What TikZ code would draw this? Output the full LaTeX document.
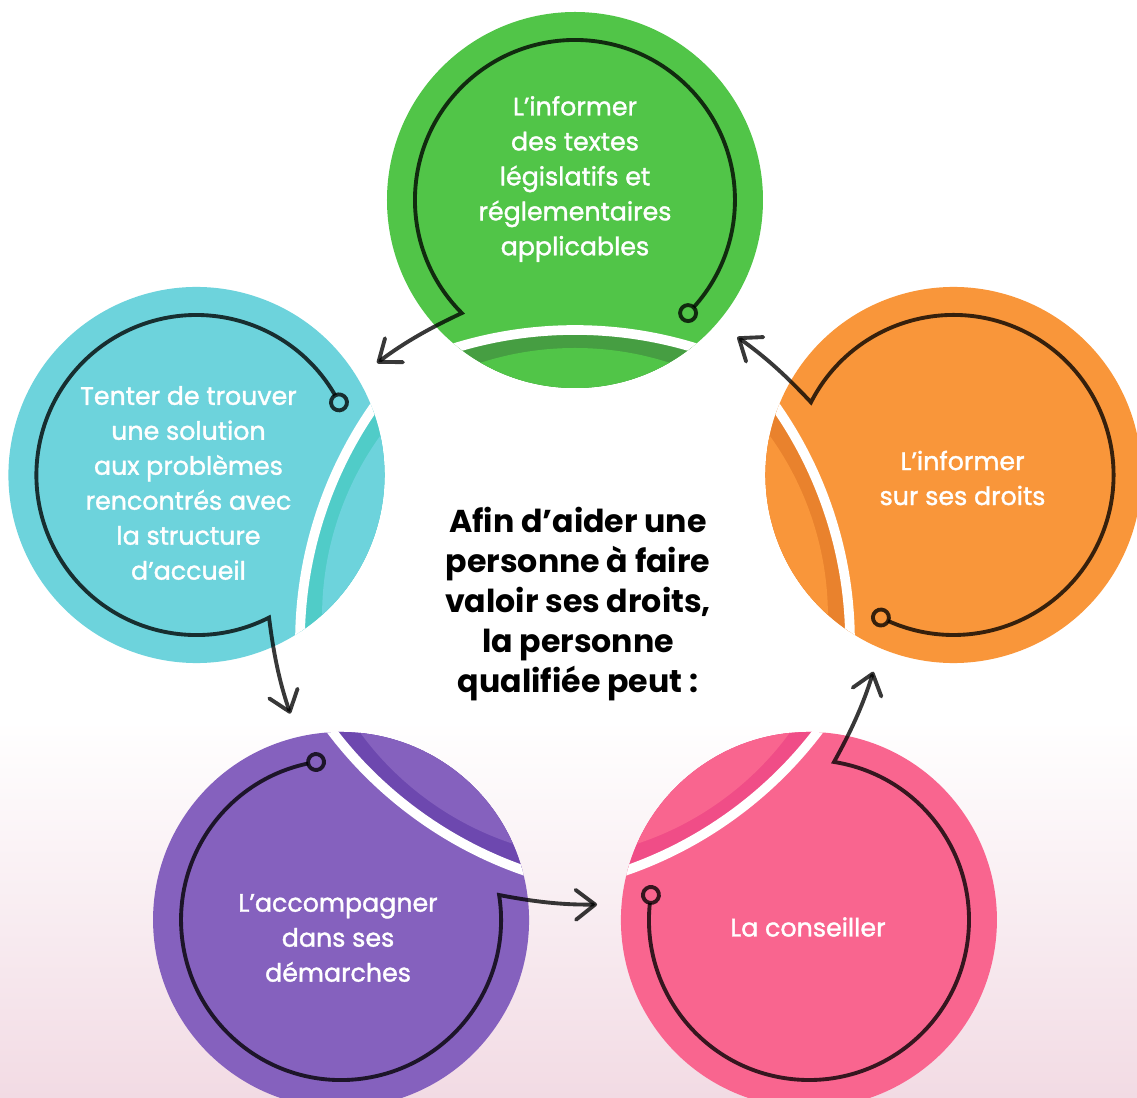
\documentclass[tikz,border=0pt]{standalone}
\usepackage{fontspec}
\setmainfont{Poppins}
\newfontfamily\moyen{Poppins}[FakeBold=1.4]
\usetikzlibrary{calc,arrows.meta}

\definecolor{cvert}{RGB}{81,197,72}
\definecolor{cvertf}{RGB}{70,158,66}
\definecolor{ccyan}{RGB}{109,211,220}
\definecolor{ccyanf}{RGB}{80,204,200}
\definecolor{corange}{RGB}{249,150,58}
\definecolor{corangef}{RGB}{233,130,45}
\definecolor{cviolet}{RGB}{133,97,190}
\definecolor{cvioletf}{RGB}{109,72,175}
\definecolor{crose}{RGB}{249,101,143}
\definecolor{crosef}{RGB}{240,77,135}
\definecolor{fondrose}{RGB}{242,219,228}

\tikzset{
  trait/.style={draw=black, draw opacity=.78, line width=2.2pt, line cap=round},
  bulletexte/.style={text=white, align=center, font=\moyen\fontsize{14.4}{19.9}\selectfont},
  centretexte/.style={text=black, align=center, font=\fontsize{18}{22.8}\selectfont\bfseries}
}

% une bulle : rotation, nom, couleur, couleur sombre
\newcommand{\bulle}[4]{%
  \begin{scope}[rotate=#1]
    \coordinate (#2) at (0,398);
    \fill[#3] (#2) circle (188);
    \begin{scope}
      \clip (#2) circle (188);
      \fill[#4] (0,-141) circle (409);
      \fill[#3] (0,-58) circle (308);
      \draw[white, line width=5.5pt] (0,-141) circle (409);
    \end{scope}
    \coordinate (#2-anneau) at (113.1,284.9);
    \coordinate (#2-fleche) at (-198,235);
    \draw[trait, -{Straight Barb[length=11pt,width=17pt,round]}]
      (#2-anneau) arc[start angle=-45, end angle=225, radius=160]
      .. controls (-145,270) and (-170,256) .. (#2-fleche);
    \draw[trait, fill=#3] (#2-anneau) circle (8);
  \end{scope}}

\begin{document}
\begin{tikzpicture}[x=0.02cm, y=0.02cm]
      \clip (-575,-500) rectangle (562,598);
      \fill[white] (-575,-500) rectangle (562,598);
      \shade[top color=white, bottom color=fondrose] (-575,-500) rectangle (562,-122);

      \bulle{0}{textes}{cvert}{cvertf}
      \bulle{72}{solution}{ccyan}{ccyanf}
      \bulle{144}{demarches}{cviolet}{cvioletf}
      \bulle{216}{conseil}{crose}{crosef}
      \bulle{288}{droits}{corange}{corangef}

      \node[bulletexte] (t-textes) at ($(textes)+(0,21)$)
        {L’informer\\des textes\\législatifs et\\réglementaires\\applicables};
      \node[bulletexte] (t-solution) at ($(solution)+(-8,-8)$)
        {Tenter de trouver\\une solution\\aux problèmes\\rencontrés avec\\la structure\\d’accueil};
      \node[bulletexte] (t-droits) at ($(droits)+(9,-3)$)
        {L’informer\\sur ses droits};
      \node[bulletexte] (t-demarches) at ($(demarches)+(-3,-18)$)
        {L’accompagner\\dans ses\\démarches};
      \node[bulletexte] (t-conseil) at ($(conseil)+(-1,-7)$)
        {La conseiller};

      \node[centretexte] (centre) at (3,-6)
        {Afin d’aider une\\personne à faire\\valoir ses droits,\\la personne\\qualifiée peut :};
\end{tikzpicture}
\end{document}
